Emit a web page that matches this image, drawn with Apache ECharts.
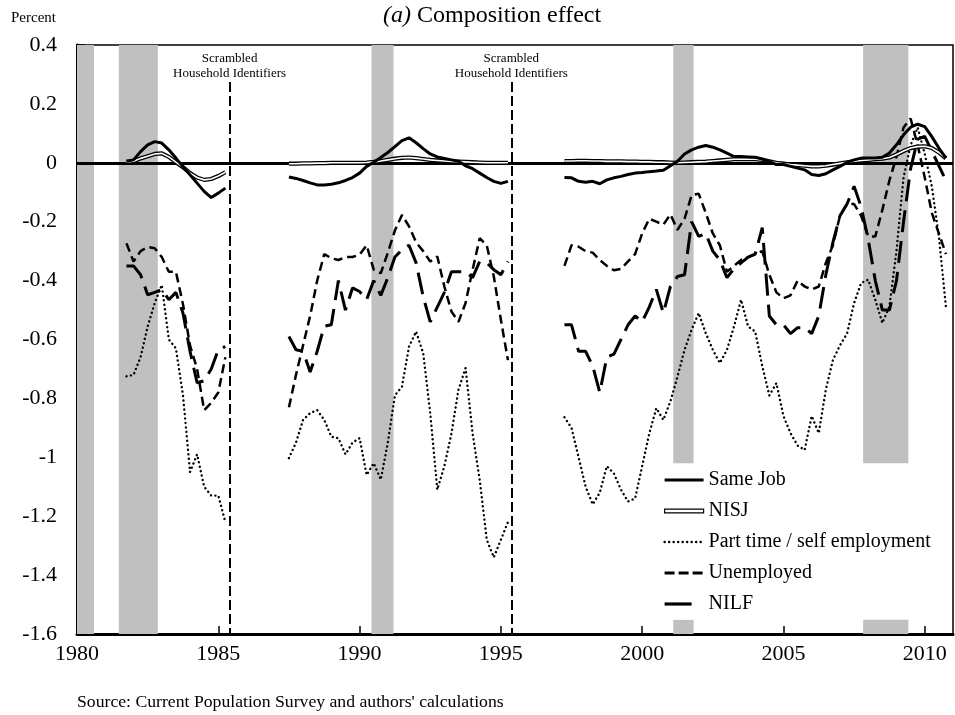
<!DOCTYPE html>
<html><head><meta charset="utf-8">
<script src="https://cdn.jsdelivr.net/npm/echarts@6/dist/echarts.min.js"></script>
<style>html,body{margin:0;padding:0;background:#fff}#c{width:955px;height:715px}</style>
</head><body><div id="c"></div>
<script>
// quarterly series, three segments (gaps where data is unavailable)
const segStarts = [1981.75, 1987.5, 1997.25];
const gapMarks = [1986.4, 1996.4];

const sameJob1 = [0.005,0.01,0.038,0.061,0.072,0.067,0.044,0.016,-0.013,-0.041,-0.069,-0.097,-0.118,-0.103,-0.086];
const sameJob2 = [-0.048,-0.053,-0.06,-0.068,-0.075,-0.075,-0.073,-0.068,-0.06,-0.05,-0.035,-0.012,0.002,0.018,0.035,0.055,0.075,0.085,0.068,0.048,0.03,0.02,0.015,0.01,0.005,-0.01,-0.02,-0.035,-0.05,-0.063,-0.07,-0.063];
const sameJob3 = [-0.05,-0.051,-0.063,-0.066,-0.063,-0.071,-0.058,-0.051,-0.046,-0.04,-0.035,-0.033,-0.03,-0.028,-0.025,-0.01,0.005,0.03,0.044,0.053,0.059,0.053,0.044,0.033,0.021,0.021,0.02,0.019,0.013,0.005,-0.006,-0.006,-0.012,-0.018,-0.024,-0.04,-0.043,-0.037,-0.024,-0.012,0.001,0.01,0.016,0.016,0.016,0.019,0.033,0.061,0.095,0.121,0.131,0.123,0.089,0.05,0.016];

const nisj1 = [0.003,0.005,0.015,0.022,0.03,0.032,0.02,0.002,-0.015,-0.035,-0.05,-0.058,-0.055,-0.045,-0.032];
const nisj2 = [-0.003,-0.003,-0.002,-0.002,-0.001,-0.001,0,0,0,0,0,0.001,0.003,0.006,0.01,0.014,0.017,0.018,0.016,0.013,0.01,0.008,0.006,0.005,0.004,0.003,0.002,0.001,0,0,0,0];
const nisj3 = [0.006,0.006,0.007,0.007,0.006,0.006,0.005,0.005,0.005,0.004,0.004,0.003,0.003,0.002,0.002,0.001,0,0.001,0.002,0.003,0.004,0.006,0.008,0.01,0.012,0.012,0.013,0.012,0.01,0.005,0,-0.003,-0.006,-0.008,-0.01,-0.012,-0.012,-0.01,-0.006,-0.002,0.002,0.005,0.008,0.01,0.012,0.014,0.018,0.028,0.04,0.05,0.055,0.056,0.05,0.035,0.015];

const partTime1 = [-0.725,-0.72,-0.66,-0.556,-0.476,-0.415,-0.60,-0.63,-0.79,-1.05,-0.99,-1.10,-1.13,-1.13,-1.22];
const partTime2 = [-1.003,-0.95,-0.873,-0.85,-0.84,-0.873,-0.93,-0.935,-0.99,-0.95,-0.935,-1.06,-1.02,-1.076,-0.95,-0.79,-0.76,-0.624,-0.573,-0.646,-0.85,-1.11,-1.03,-0.92,-0.77,-0.697,-0.92,-1.076,-1.28,-1.34,-1.28,-1.22];
const partTime3 = [-0.864,-0.90,-1.0,-1.10,-1.16,-1.12,-1.03,-1.055,-1.11,-1.15,-1.14,-1.03,-0.92,-0.833,-0.873,-0.81,-0.726,-0.635,-0.567,-0.51,-0.578,-0.635,-0.68,-0.635,-0.556,-0.465,-0.556,-0.573,-0.69,-0.79,-0.748,-0.86,-0.918,-0.96,-0.975,-0.86,-0.918,-0.77,-0.67,-0.62,-0.58,-0.476,-0.408,-0.397,-0.465,-0.544,-0.488,-0.30,-0.05,0.06,0.12,0.03,-0.08,-0.25,-0.49];

const unemployed1 = [-0.273,-0.335,-0.30,-0.286,-0.29,-0.32,-0.37,-0.37,-0.48,-0.62,-0.70,-0.84,-0.815,-0.78,-0.66];
const unemployed2 = [-0.83,-0.72,-0.62,-0.52,-0.40,-0.31,-0.324,-0.33,-0.32,-0.32,-0.312,-0.28,-0.363,-0.375,-0.305,-0.23,-0.177,-0.216,-0.27,-0.30,-0.335,-0.318,-0.42,-0.505,-0.54,-0.476,-0.363,-0.256,-0.28,-0.386,-0.533,-0.67];
const unemployed3 = [-0.35,-0.28,-0.285,-0.30,-0.305,-0.33,-0.35,-0.365,-0.36,-0.335,-0.31,-0.24,-0.19,-0.20,-0.21,-0.175,-0.228,-0.19,-0.11,-0.105,-0.17,-0.24,-0.28,-0.37,-0.35,-0.33,-0.32,-0.31,-0.30,-0.38,-0.44,-0.46,-0.45,-0.40,-0.42,-0.43,-0.42,-0.34,-0.28,-0.18,-0.14,-0.14,-0.18,-0.25,-0.25,-0.16,-0.06,0.02,0.12,0.15,0.06,-0.05,-0.17,-0.24,-0.31];

const nilf1 = [-0.35,-0.35,-0.38,-0.448,-0.44,-0.43,-0.465,-0.44,-0.51,-0.64,-0.747,-0.74,-0.70,-0.635,-0.624];
const nilf2 = [-0.59,-0.635,-0.64,-0.71,-0.64,-0.555,-0.55,-0.40,-0.50,-0.425,-0.437,-0.465,-0.40,-0.45,-0.39,-0.32,-0.295,-0.28,-0.34,-0.454,-0.54,-0.49,-0.44,-0.37,-0.37,-0.37,-0.39,-0.335,-0.34,-0.363,-0.38,-0.335];
const nilf3 = [-0.55,-0.55,-0.64,-0.64,-0.69,-0.78,-0.66,-0.65,-0.60,-0.55,-0.52,-0.54,-0.49,-0.43,-0.51,-0.42,-0.386,-0.38,-0.20,-0.25,-0.24,-0.30,-0.33,-0.39,-0.36,-0.34,-0.32,-0.31,-0.22,-0.52,-0.55,-0.55,-0.58,-0.56,-0.56,-0.58,-0.52,-0.38,-0.27,-0.18,-0.14,-0.08,-0.15,-0.26,-0.40,-0.50,-0.50,-0.40,-0.20,-0.02,0.08,0.09,0.04,-0.01,-0.06];

// recession periods (shaded) and identifier-scramble dates
const recessions = [[1980.0,1980.6],[1981.48,1982.86],[1990.42,1991.2],[2001.1,2001.82],[2007.82,2009.42]];
const legendCut = [-1.02, -1.552];   // bands interrupted behind the legend box
const scrambleDates = [1985.4, 1995.37];
const scrambleTop = 0.274;
const yTicks = ['0.4','0.2','0','-0.2','-0.4','-0.6','-0.8','-1','-1.2','-1.4','-1.6'];
const xTicks = ['1980','1985','1990','1995','2000','2005','2010'];

const FONT = '"Liberation Serif","Times New Roman",serif';

function pairs(start, vals){ return vals.map((v,i)=>[start+0.25*i, v]); }
function join(a,b,c){
  return [].concat(pairs(segStarts[0],a), [[gapMarks[0],'-']], pairs(segStarts[1],b), [[gapMarks[1],'-']], pairs(segStarts[2],c));
}

const bandAreas = [];
recessions.forEach(([s,e])=>{
  if(s > 2000){
    bandAreas.push([{coord:[s,0.4]},{coord:[e,legendCut[0]]}]);
    bandAreas.push([{coord:[s,legendCut[1]]},{coord:[e,-1.6]}]);
  } else {
    bandAreas.push([{coord:[s,0.4]},{coord:[e,-1.6]}]);
  }
});

const chart = echarts.init(document.getElementById('c'), null, {renderer:'canvas'});
chart.setOption({
  animation:false,
  backgroundColor:'#fff',
  color:['#000'],
  textStyle:{fontFamily:FONT, color:'#000'},
  title:[
    {text:'{i|(a)} Composition effect', left:383, top:4, padding:0,
     textStyle:{fontFamily:FONT, fontWeight:'normal', fontSize:24, color:'#000',
       rich:{i:{fontFamily:FONT, fontStyle:'italic', fontSize:24, color:'#000'}}}},
    {text:'Percent', left:11, top:11, padding:0, textStyle:{fontFamily:FONT, fontWeight:'normal', fontSize:15, color:'#000'}},
    {text:"Source: Current Population Survey and authors' calculations", left:77, top:693, padding:0,
     textStyle:{fontFamily:FONT, fontWeight:'normal', fontSize:17.7, color:'#000'}}
  ],
  grid:{left:77, right:2, top:45, bottom:81, show:true, borderColor:'#000', borderWidth:1.5, backgroundColor:'transparent'},
  legend:{
    orient:'vertical', left:663, top:470, padding:0, itemWidth:39, itemHeight:14, itemGap:11,
    selectedMode:false,
    itemStyle:{opacity:0},
    lineStyle:{width:'inherit'},
    textStyle:{fontFamily:FONT, fontSize:20, lineHeight:20, color:'#000'},
    data:[
      {name:'Same Job', lineStyle:{width:3.2}},
      {name:'NISJ', icon:'path://M0,0 L40,0 L40,4 L0,4 Z', itemStyle:{opacity:1, color:'#fff', borderColor:'#000', borderWidth:1.2}},
      {name:'Part time / self employment', lineStyle:{width:2.4}},
      {name:'Unemployed', lineStyle:{width:3, type:[10,4]}},
      {name:'NILF', lineStyle:{width:3.2, type:[27,20]}}
    ]
  },
  xAxis:{
    type:'value', min:1980, max:2011, interval:5,
    axisLine:{onZero:false, lineStyle:{color:'#000', width:3}},
    axisTick:{inside:true, length:8, lineStyle:{color:'#000', width:1.5}},
    splitLine:{show:false},
    axisLabel:{showMaxLabel:false, margin:9, fontFamily:FONT, fontSize:22, color:'#000',
      formatter:(v)=>{ const i = xTicks.indexOf(String(Math.round(v))); return i>=0 ? xTicks[i] : ''; }}
  },
  yAxis:{
    type:'value', min:-1.6, max:0.4, interval:0.2,
    axisLine:{show:true, lineStyle:{color:'#000', width:3}},
    axisTick:{show:true, inside:true, length:8, lineStyle:{color:'#000', width:1.5}},
    splitLine:{show:false},
    axisLabel:{margin:20, fontFamily:FONT, fontSize:22, color:'#000',
      formatter:(v)=>{ const i = Math.round((0.4 - v)/0.2); return yTicks[i] || ''; }}
  },
  series:[
    {name:'bands', type:'line', data:[], silent:true, z:1,
     markArea:{silent:true, itemStyle:{color:'#c0c0c0'}, data:bandAreas}},
    {name:'refs', type:'line', data:[], silent:true, z:3,
     markLine:{silent:true, symbol:['none','none'], animation:false,
       data:[
         {yAxis:0, lineStyle:{color:'#000', width:2.8, type:'solid'}, label:{show:false}},
         ...scrambleDates.map(d=>[
           {coord:[d, scrambleTop], lineStyle:{color:'#000', width:2, type:[10,4]},
            label:{show:true, position:'start', distance:1.5, formatter:'Scrambled\nHousehold Identifiers',
              fontFamily:FONT, fontSize:13, lineHeight:15, color:'#000'}},
           {coord:[d, -1.6]}
         ])
       ]}},
    {name:'Part time / self employment', type:'line', data:join(partTime1,partTime2,partTime3),
     symbol:'none', z:4, itemStyle:{color:'#000'}, lineStyle:{color:'#000', width:2.4, type:[0.1,4.4], cap:'round'}},
    {name:'Unemployed', type:'line', data:join(unemployed1,unemployed2,unemployed3),
     symbol:'none', z:4, itemStyle:{color:'#000'}, lineStyle:{color:'#000', width:2.5, type:[9,5]}},
    {name:'NILF', type:'line', data:join(nilf1,nilf2,nilf3),
     symbol:'none', z:4, itemStyle:{color:'#000'}, lineStyle:{color:'#000', width:3, type:[22,9]}},
    {name:'NISJ', type:'line', data:join(nisj1,nisj2,nisj3),
     symbol:'none', z:5, itemStyle:{color:'#000'}, lineStyle:{color:'#000', width:4.2, type:'solid'}},
    {name:'NISJ inner', type:'line', data:join(nisj1,nisj2,nisj3),
     symbol:'none', z:6, itemStyle:{color:'#fff'}, lineStyle:{color:'#fff', width:1.6, type:'solid'}},
    {name:'Same Job', type:'line', data:join(sameJob1,sameJob2,sameJob3),
     symbol:'none', z:7, itemStyle:{color:'#000'}, lineStyle:{color:'#000', width:3, type:'solid'}}
  ]
});
</script></body></html>
